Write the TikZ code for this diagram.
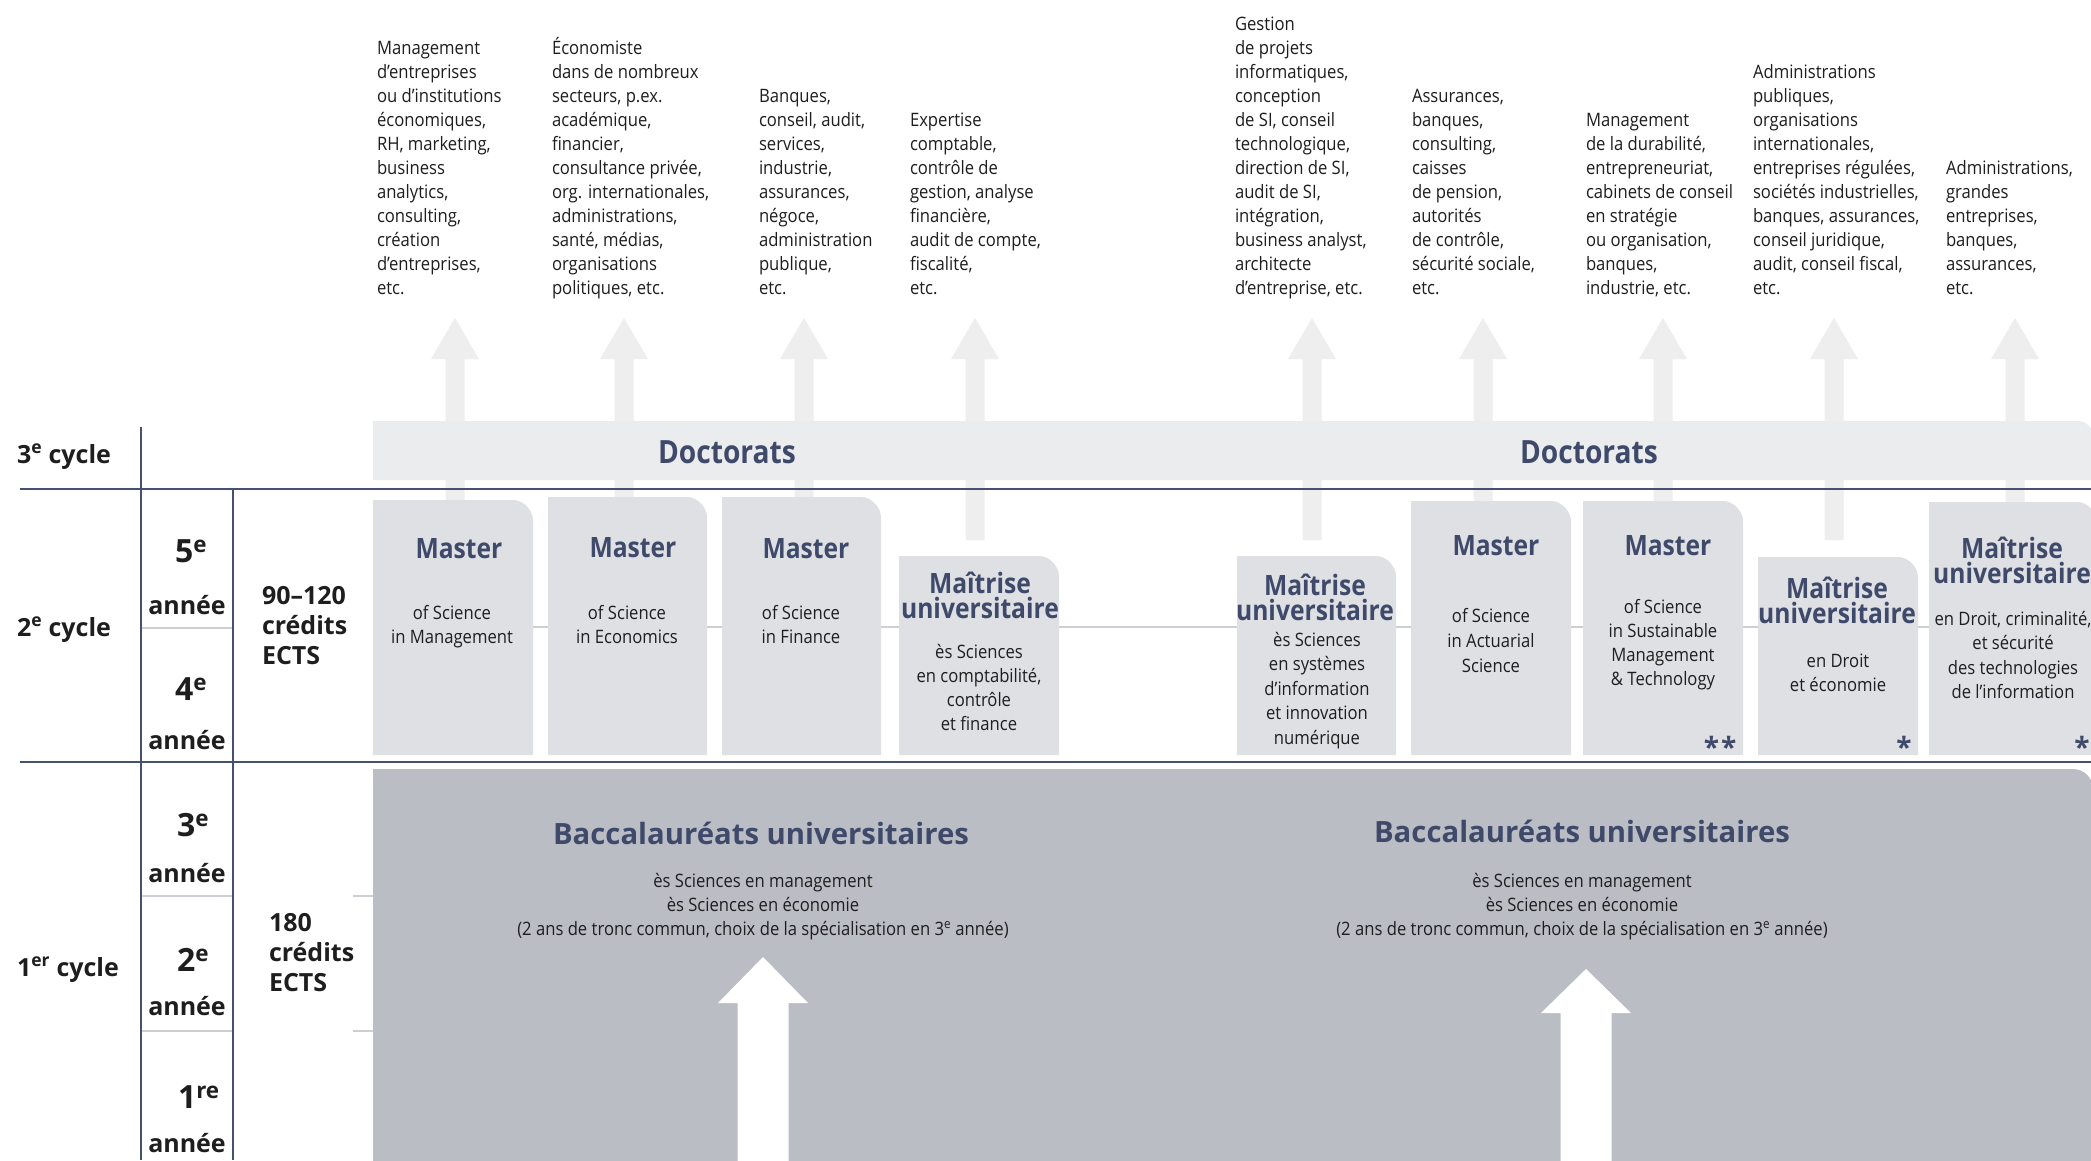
\documentclass[tikz,border=0pt]{standalone}
\usepackage{fontspec}
\setmainfont{Open Sans}
\newfontfamily\cond[FakeStretch=0.9]{Open Sans}
\newfontfamily\hcond[FakeStretch=0.88]{Open Sans}
\definecolor{hd}{HTML}{3F4A6B}
\definecolor{dk}{HTML}{46516F}
\definecolor{mb}{HTML}{DFE0E4}
\definecolor{db}{HTML}{EBECEE}
\definecolor{ar}{HTML}{EEEEEF}
\definecolor{bac}{HTML}{BBBDC5}
\definecolor{lt}{HTML}{CDCFD5}
\definecolor{txt}{HTML}{1E1E1E}
% multi-line blocks: first-baseline (\vtop) and last-baseline (\vbox)
\newcommand\TL[2]{\vtop{\baselineskip=#1pt\lineskiplimit=-100pt\lineskip=0pt\halign{##\hfil\cr#2\crcr}}}
\newcommand\TC[2]{\vtop{\baselineskip=#1pt\lineskiplimit=-100pt\lineskip=0pt\halign{\hfil##\hfil\cr#2\crcr}}}
\newcommand\BL[2]{\vbox{\baselineskip=#1pt\lineskiplimit=-100pt\lineskip=0pt\halign{##\hfil\cr#2\crcr}}}
\newcommand\mastshape[3]{% x1, x2, top
  \fill[mb] (#1,755) -- (#1,#3) -- ({#2-20},#3) .. controls ({#2-9},#3) and (#2,{#3+11}) .. (#2,{#3+20}) -- (#2,755) -- cycle;}
\newcommand\uparr[5]{% cx, tip, base, half head, half shaft
  \fill (#1-#5,1175) -- (#1-#5,#3) -- (#1-#4,#3) -- (#1,#2) -- (#1+#4,#3) -- (#1+#5,#3) -- (#1+#5,1175) -- cycle;}
\begin{document}
\begin{tikzpicture}[x=1pt,y=-1pt,
  every node/.style={inner sep=0pt,outer sep=0pt},
  toptxt/.style={anchor=base west,font=\cond\fontsize{18.5}{24}\selectfont,text=txt},
  subtxt/.style={anchor=base,font=\cond\fontsize{18.5}{24}\selectfont,text=txt},
  mhead/.style={anchor=base,font=\hcond\bfseries\fontsize{28}{25}\selectfont,text=hd},
  dhead/.style={anchor=base,font=\hcond\bfseries\fontsize{32}{32}\selectfont,text=hd},
  bhead/.style={anchor=base,font=\bfseries\fontsize{29.3}{30}\selectfont,text=hd},
  lab/.style={anchor=base west,font=\bfseries\fontsize{25}{30}\selectfont,text=txt},
  yr/.style={anchor=base west,font=\bfseries\fontsize{32}{32}\selectfont,text=txt},
  an/.style={anchor=base,font=\bfseries\fontsize{25}{30}\selectfont,text=txt},
  star/.style={anchor=base,font=\bfseries\fontsize{28}{28}\selectfont,text=hd},
  darkline/.style={draw=dk,line width=2.2pt},
  lightline/.style={draw=lt,line width=1.5pt}]
\useasboundingbox (0,0) rectangle (2091,1160);
\clip (0,0) rectangle (2091,1160);
\fill[white] (0,0) rectangle (2091,1160);

% light guide lines
\draw[lightline] (373,627) -- (2091,627);
\draw[lightline] (141,628) -- (233,628);
\draw[lightline] (141,896) -- (233,896);
\draw[lightline] (141,1031) -- (233,1031);
\draw[lightline] (353,896) -- (380,896);
\draw[lightline] (353,1031) -- (380,1031);

% upward arrows to careers
\foreach \cx in {455,624,804,975,1312,1483,1663,1834,2015}{
  \fill[ar] (\cx-9.5,540) -- (\cx-9.5,359) -- (\cx-24,359) -- (\cx,318) -- (\cx+24,359) -- (\cx+9.5,359) -- (\cx+9.5,540) -- cycle;}

% Doctorats band
\fill[db] (373,480) -- (373,421) -- (2078,421) .. controls (2086,421) and (2093,428) .. (2093,436) -- (2093,480) -- cycle;

% master boxes
\mastshape{373}{533}{500}
\mastshape{548}{707}{497}
\mastshape{722}{881}{497}
\mastshape{899}{1059}{556}
\mastshape{1237}{1396}{556}
\mastshape{1411}{1571}{501}
\mastshape{1583}{1743}{501}
\mastshape{1758}{1918}{557}
\mastshape{1929}{2097}{502}

% bachelor box
\fill[bac] (373,1175) -- (373,769) -- (2073,769) .. controls (2084,769) and (2093,778) .. (2093,789) -- (2093,1175) -- cycle;
\begin{scope}[white]
\uparr{763}{957}{1003}{45}{25.5}
\uparr{1586}{969}{1013}{45}{25.5}
\end{scope}

% frame lines
\draw[darkline] (20,489) -- (2091,489);
\draw[darkline] (20,762) -- (2091,762);
\draw[darkline] (141,427) -- (141,1160);
\draw[darkline] (233,489) -- (233,1160);

% left labels
\node[lab] (c3) at (17,463) {3\textsuperscript{e} cycle};
\node[lab] (c2) at (17,636) {2\textsuperscript{e} cycle};
\node[lab] (c1) at (17,976) {1\textsuperscript{er} cycle};
\node[yr] (y5) at (175,562) {5\textsuperscript{e}};
\node[an] (a5) at (187,614) {année};
\node[yr] (y4) at (175,700) {4\textsuperscript{e}};
\node[an] (a4) at (187,749) {année};
\node[yr] (y3) at (177,836) {3\textsuperscript{e}};
\node[an] (a3) at (187,882) {année};
\node[yr] (y2) at (177,971) {2\textsuperscript{e}};
\node[an] (a2) at (187,1015) {année};
\node[yr] (y1) at (178,1108) {1\textsuperscript{re}};
\node[an] (a1) at (187,1152) {année};
\node[lab] (cr2) at (262,604) {\TL{30}{90–120\cr crédits\cr ECTS}};
\node[lab] (cr1) at (269,931) {\TL{30}{180\cr crédits\cr ECTS}};

% career texts
\node[toptxt] (t1) at (377,294) {\BL{24}{Management\cr d’entreprises\cr ou d’institutions\cr économiques,\cr RH, marketing,\cr business\cr analytics,\cr consulting,\cr création\cr d’entreprises,\cr etc.}};
\node[toptxt] (t2) at (552,294) {\BL{24}{Économiste\cr dans de nombreux\cr secteurs, p.ex.\cr académique,\cr financier,\cr consultance privée,\cr org. internationales,\cr administrations,\cr santé, médias,\cr organisations\cr politiques, etc.}};
\node[toptxt] (t3) at (759,294) {\BL{24}{Banques,\cr conseil, audit,\cr services,\cr industrie,\cr assurances,\cr négoce,\cr administration\cr publique,\cr etc.}};
\node[toptxt] (t4) at (910,294) {\BL{24}{Expertise\cr comptable,\cr contrôle de\cr gestion, analyse\cr financière,\cr audit de compte,\cr fiscalité,\cr etc.}};
\node[toptxt] (t5) at (1235,294) {\BL{24}{Gestion\cr de projets\cr informatiques,\cr conception\cr de SI, conseil\cr technologique,\cr direction de SI,\cr audit de SI,\cr intégration,\cr business analyst,\cr architecte\cr d’entreprise, etc.}};
\node[toptxt] (t6) at (1412,294) {\BL{24}{Assurances,\cr banques,\cr consulting,\cr caisses\cr de pension,\cr autorités\cr de contrôle,\cr sécurité sociale,\cr etc.}};
\node[toptxt] (t7) at (1586,294) {\BL{24}{Management\cr de la durabilité,\cr entrepreneuriat,\cr cabinets de conseil\cr en stratégie\cr ou organisation,\cr banques,\cr industrie, etc.}};
\node[toptxt] (t8) at (1753,294) {\BL{24}{Administrations\cr publiques,\cr organisations\cr internationales,\cr entreprises régulées,\cr sociétés industrielles,\cr banques, assurances,\cr conseil juridique,\cr audit, conseil fiscal,\cr etc.}};
\node[toptxt] (t9) at (1946,294) {\BL{24}{Administrations,\cr grandes\cr entreprises,\cr banques,\cr assurances,\cr etc.}};

% Doctorats
\node[dhead] (d1) at (727,463) {Doctorats};
\node[dhead] (d2) at (1589,463) {Doctorats};

% master headings
\node[mhead] (h1) at (459,558) {Master};
\node[mhead] (h2) at (633,557) {Master};
\node[mhead] (h3) at (806,558) {Master};
\node[mhead] (h4) at (980,593) {\TC{25}{Maîtrise\cr universitaire}};
\node[mhead] (h5) at (1315,595) {\TC{25}{Maîtrise\cr universitaire}};
\node[mhead] (h6) at (1496,555) {Master};
\node[mhead] (h7) at (1668,555) {Master};
\node[mhead] (h8) at (1837,598) {\TC{25}{Maîtrise\cr universitaire}};
\node[mhead] (h9) at (2012,558) {\TC{25}{Maîtrise\cr universitaire}};

% master sub texts
\node[subtxt] (s1) at (452,619) {\TC{24}{of Science\cr in Management}};
\node[subtxt] (s2) at (627,619) {\TC{24}{of Science\cr in Economics}};
\node[subtxt] (s3) at (801,619) {\TC{24}{of Science\cr in Finance}};
\node[subtxt] (s4) at (979,658) {\TC{24}{ès Sciences\cr en comptabilité,\cr contrôle\cr et finance}};
\node[subtxt] (s5) at (1317,646) {\TC{24.5}{ès Sciences\cr en systèmes\cr d’information\cr et innovation\cr numérique}};
\node[subtxt] (s6) at (1491,622) {\TC{25}{of Science\cr in Actuarial\cr Science}};
\node[subtxt] (s7) at (1663,613) {\TC{24}{of Science\cr in Sustainable\cr Management\cr \& Technology}};
\node[subtxt] (s8) at (1838,667) {\TC{24}{en Droit\cr et économie}};
\node[subtxt] (s9) at (2013,625) {\TC{24.5}{en Droit, criminalité,\cr et sécurité\cr des technologies\cr de l’information}};

\node[star] (st7) at (1720,757) {*\kern2pt*};
\node[star] (st8) at (1904,757) {*};
\node[star] (st9) at (2082,757) {*};

% bachelor texts
\node[bhead] (b1) at (761,844) {Baccalauréats universitaires};
\node[bhead] (b2) at (1582,842) {Baccalauréats universitaires};
\node[subtxt] (bs1) at (763,887) {\TC{24}{ès Sciences en management\cr ès Sciences en économie\cr (2 ans de tronc commun, choix de la spécialisation en 3\textsuperscript{e} année)}};
\node[subtxt] (bs2) at (1582,887) {\TC{24}{ès Sciences en management\cr ès Sciences en économie\cr (2 ans de tronc commun, choix de la spécialisation en 3\textsuperscript{e} année)}};
\end{tikzpicture}
\end{document}
